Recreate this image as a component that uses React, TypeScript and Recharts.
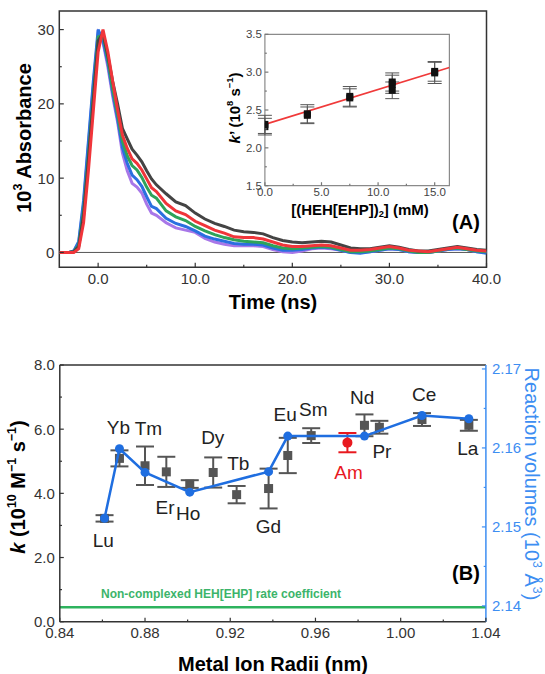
import React from "react"
import {
  ComposedChart,
  LineChart,
  Line,
  Scatter,
  XAxis,
  YAxis,
  ErrorBar,
  ReferenceArea,
  ReferenceLine,
} from "recharts"

const FONT = "'Liberation Sans', Arial, Helvetica, sans-serif"

// ---- (A) transient absorbance, 10^3 A vs time (ns) ----
const TIME_NS = [
  -4, -3, -2.5, -2, -1.5, -1, -0.5, 0, 0.5, 1, 1.5,
  2, 2.5, 3, 3.5, 4, 4.5, 5, 5.5, 6,
  7, 8, 9, 10, 11, 12, 13, 14, 15, 16, 17, 18, 19, 20, 21, 22, 23, 24,
  25, 26, 27, 28, 29, 30, 31, 32, 33, 34, 35, 36, 37, 38, 39, 40,
]
const ABS_BLACK = [
  0, 0, 0.1, 0.8, 5, 12.5, 20.5, 28.5, 29.5, 26.5, 23,
  20, 16.7, 15.3, 13.9, 13.1, 12.2, 11.0, 9.9, 9.1,
  7.9, 6.8, 6.3, 5.3, 4.5, 3.9, 3.5, 3.0, 2.8, 2.7, 2.5, 2.0, 1.6, 1.4, 1.3, 1.4, 1.5, 1.4,
  1.0, 0.6, 0.5, 0.5, 0.7, 0.9, 0.7, 0.4, 0.2, 0.2, 0.4, 0.6, 0.8, 0.6, 0.4, 0.3,
]
const ABS_RED = [
  0, 0, 0, 0.5, 4, 11, 19, 27, 30, 27, 23,
  19.2, 15.8, 14.0, 12.6, 12.0, 11.1, 9.9, 8.7, 8.2,
  6.6, 5.6, 5.1, 4.2, 3.6, 3.0, 2.6, 2.1, 2.0, 2.0, 1.8, 1.4, 1.0, 0.8, 0.8, 0.9, 1.0, 0.9,
  0.6, 0.3, 0.3, 0.4, 0.6, 0.8, 0.6, 0.3, 0.2, 0.1, 0.3, 0.5, 0.7, 0.5, 0.3, 0.2,
]
const ABS_GREEN = [
  0, 0, 0.1, 1.0, 5.5, 13, 21, 29, 29.3, 26, 22,
  18.6, 15.0, 13.0, 11.7, 11.1, 10.1, 8.8, 7.7, 7.3,
  5.6, 4.8, 4.3, 3.5, 2.9, 2.4, 2.0, 1.7, 1.5, 1.4, 1.3, 0.9, 0.6, 0.5, 0.6, 0.7, 0.8, 0.7,
  0.4, 0.1, 0.1, 0.2, 0.4, 0.6, 0.5, 0.2, 0.0, 0.0, 0.2, 0.5, 0.6, 0.4, 0.2, 0.1,
]
const ABS_BLUE = [
  0, 0, 0.2, 1.5, 7, 15, 23, 30, 28.5, 25.5, 21.5,
  18.0, 14.1, 12.0, 10.4, 9.8, 8.9, 7.5, 6.2, 5.9,
  4.6, 3.9, 3.5, 2.9, 2.2, 1.8, 1.5, 1.2, 1.1, 1.1, 1.0, 0.6, 0.3, 0.3, 0.4, 0.6, 0.7, 0.6,
  0.3, 0.0, -0.1, 0.1, 0.3, 0.5, 0.4, 0.1, 0.0, 0.0, 0.2, 0.4, 0.5, 0.4, 0.1, -0.1,
]
const ABS_PURPLE = [
  0, 0, 0.2, 1.3, 6.5, 14.5, 22.5, 29.5, 28.3, 25, 21,
  17.6, 13.4, 11.0, 9.3, 8.8, 8.0, 6.5, 5.3, 5.0,
  4.0, 3.3, 3.0, 2.7, 1.9, 1.4, 1.1, 0.9, 0.9, 0.9, 0.8, 0.4, 0.1, 0.0, 0.2, 0.5, 0.6, 0.5,
  0.3, 0.0, 0.0, 0.1, 0.3, 0.5, 0.4, 0.1, 0.0, 0.0, 0.2, 0.4, 0.5, 0.4, 0.1, 0.0,
]

// ---- (A) inset: k' vs [(HEH[EHP])2] ----
const CONC_MM = [0, 0, 3.75, 3.75, 7.5, 7.5, 11.25, 11.25, 11.25, 15, 15]
const K_PRIME = [2.28, 2.31, 2.43, 2.45, 2.66, 2.68, 2.76, 2.84, 2.87, 2.99, 3.01]
const K_PRIME_ERR = [0.11, 0.12, 0.11, 0.12, 0.12, 0.13, 0.11, 0.12, 0.12, 0.14, 0.13]
const FIT_CONC = [0, 16.3]
const FIT_K = [2.31, 3.06]

// ---- (B) rate coefficients and reaction volumes vs ionic radius ----
const ELEMENTS = ["Lu", "Yb", "Tm", "Er", "Ho", "Dy", "Tb", "Gd", "Eu", "Sm", "Nd", "Pr", "Ce", "La"]
const RADII_NM = [0.861, 0.868, 0.88, 0.89, 0.901, 0.912, 0.923, 0.938, 0.947, 0.958, 0.983, 0.99, 1.01, 1.032]
const K_RATE = [3.22, 5.09, 4.86, 4.67, 4.29, 4.65, 3.96, 4.15, 5.18, 5.8, 6.12, 6.06, 6.3, 6.12]
const K_ERR = [0.1, 0.25, 0.6, 0.47, 0.12, 0.47, 0.27, 0.62, 0.55, 0.23, 0.34, 0.2, 0.2, 0.17]
const AM_RADIUS = 0.975
const AM_K = 5.58
const AM_ERR = 0.3
const VOL_RADII = [0.861, 0.868, 0.88, 0.901, 0.938, 0.947, 0.983, 1.01, 1.032]
const VOLUMES = [2.1511, 2.1599, 2.1569, 2.1544, 2.157, 2.1615, 2.1615, 2.1641, 2.1637]
const NONCOMPLEX_K = 0.45

// annotation anchors for element names (data coordinates)
const LABEL_NAMES = ["Lu", "Yb", "Tm", "Er", "Ho", "Dy", "Tb", "Gd", "Eu", "Sm", "Am", "Nd", "Pr", "Ce", "La"]
const LABEL_X = [0.8604, 0.8675, 0.8816, 0.8894, 0.9003, 0.9118, 0.9238, 0.9379, 0.9458, 0.959, 0.9755, 0.9819, 0.9912, 1.011, 1.0315]
const LABEL_K = [2.55, 6.06, 6.02, 3.56, 3.38, 5.76, 4.95, 2.98, 6.47, 6.62, 4.67, 7.0, 5.3, 7.09, 5.41]

const decayRows = TIME_NS.map((t, i) => ({
  t,
  purple: ABS_PURPLE[i],
  blue: ABS_BLUE[i],
  green: ABS_GREEN[i],
  black: ABS_BLACK[i],
  red: ABS_RED[i],
}))
const insetRows = CONC_MM.map((c, i) => ({ c, k: K_PRIME[i], err: K_PRIME_ERR[i] }))
const fitRows = FIT_CONC.map((c, i) => ({ c, k: FIT_K[i] }))
const kRows = RADII_NM.map((x, i) => ({ x, k: K_RATE[i], err: K_ERR[i], name: ELEMENTS[i] }))
const amRows = [{ x: AM_RADIUS, k: AM_K, err: AM_ERR }]
const volRows = VOL_RADII.map((x, i) => ({ x, v: VOLUMES[i] }))
const labelRows = LABEL_NAMES.map((name, i) => ({ x: LABEL_X[i], k: LABEL_K[i], name }))

const BLUE = "#1f6ee0"
const AXIS_BLUE = "#3d8ef2"
const GREY = "#333"

type TickOpts = {
  side: "bottom" | "left" | "right"
  major: number[]
  digits: number
  size: number
  color: string
  tickColor: string
  len: number
  gap: number
}

const axisTick = (o: TickOpts) => (props: any) => {
  const { x, y, payload } = props
  const v = Number(payload.value)
  const isMajor = o.major.some((m) => Math.abs(m - v) < 1e-9)
  const len = isMajor ? o.len : o.len * 0.55
  const label = isMajor ? v.toFixed(o.digits) : ""
  const text = (tx: number, ty: number, anchor: string, dy: string) =>
    label ? (
      <text x={tx} y={ty} dy={dy} textAnchor={anchor} fontSize={o.size} fill={o.color} fontFamily={FONT}>
        {label}
      </text>
    ) : null
  if (o.side === "bottom") {
    return (
      <g>
        <line x1={x} x2={x} y1={y} y2={y - len} stroke={o.tickColor} strokeWidth={1.2} />
        {text(x, y + o.gap, "middle", "0.72em")}
      </g>
    )
  }
  if (o.side === "left") {
    return (
      <g>
        <line x1={x} x2={x + len} y1={y} y2={y} stroke={o.tickColor} strokeWidth={1.2} />
        {text(x - o.gap, y, "end", "0.36em")}
      </g>
    )
  }
  return (
    <g>
      <line x1={x} x2={x - len} y1={y} y2={y} stroke={o.tickColor} strokeWidth={1.2} />
      {text(x + o.gap, y, "start", "0.36em")}
    </g>
  )
}

const square = (color: string, s: number) => (p: any) =>
  <rect x={p.cx - s / 2} y={p.cy - s / 2} width={s} height={s} fill={color} />
const dot = (color: string, r: number) => (p: any) => <circle cx={p.cx} cy={p.cy} r={r} fill={color} />
const nothing = () => <g />
const nameLabel = (p: any) => (
  <text
    x={p.cx}
    y={p.cy}
    dy="0.36em"
    textAnchor="middle"
    fontSize={19}
    fontFamily={FONT}
    fill={p.payload.name === "Am" ? "#e8191f" : "#222"}
  >
    {p.payload.name}
  </text>
)

const abs = (left: number, top: number, extra: React.CSSProperties = {}): React.CSSProperties => ({
  position: "absolute",
  left,
  top,
  fontFamily: FONT,
  whiteSpace: "nowrap",
  transform: "translate(-50%, -50%)",
  ...extra,
})

const sup: React.CSSProperties = { fontSize: "0.62em", verticalAlign: "0.65em", lineHeight: 0 }
const sub: React.CSSProperties = { fontSize: "0.62em", verticalAlign: "-0.3em", lineHeight: 0 }

export default function App() {
  return (
    <div style={{ position: "absolute", left: 0, top: 0, width: 545, height: 674, background: "#fff", overflow: "hidden" }}>
      {/* panel A */}
      <div style={{ position: "absolute", left: 0, top: 0 }}>
        <LineChart width={545} height={320} data={decayRows} margin={{ top: 11, right: 58.5, bottom: 0, left: 0 }}>
          <XAxis
            dataKey="t"
            type="number"
            domain={[-4, 40]}
            allowDataOverflow
            ticks={[0, 5, 10, 15, 20, 25, 30, 35, 40]}
            interval={0}
            height={52.7}
            axisLine={false}
            tickLine={false}
            tickSize={0}
            tickMargin={0}
            tick={axisTick({ side: "bottom", major: [0, 10, 20, 30, 40], digits: 1, size: 15, color: GREY, tickColor: GREY, len: 4.5, gap: 6 })}
          />
          <YAxis
            type="number"
            domain={[-2, 32.5]}
            allowDataOverflow
            ticks={[0, 5, 10, 15, 20, 25, 30]}
            interval={0}
            width={59.3}
            axisLine={false}
            tickLine={false}
            tickSize={0}
            tickMargin={0}
            tick={axisTick({ side: "left", major: [0, 10, 20, 30], digits: 0, size: 15, color: GREY, tickColor: GREY, len: 4.5, gap: 5 })}
          />
          <ReferenceLine y={0} stroke="#555" strokeWidth={1} />
          <Line dataKey="purple" stroke="#a877e8" strokeWidth={3} dot={false} isAnimationActive={false} />
          <Line dataKey="blue" stroke="#2a6fe0" strokeWidth={3} dot={false} isAnimationActive={false} />
          <Line dataKey="green" stroke="#2ea35a" strokeWidth={3} dot={false} isAnimationActive={false} />
          <Line dataKey="black" stroke="#444" strokeWidth={3} dot={false} isAnimationActive={false} />
          <Line dataKey="red" stroke="#f0353a" strokeWidth={3} dot={false} isAnimationActive={false} />
          <ReferenceArea x1={-4} x2={40} y1={-2} y2={32.5} fill="none" stroke={GREY} strokeWidth={1.5} />
        </LineChart>
      </div>

      {/* inset */}
      <div style={{ position: "absolute", left: 200, top: 20 }}>
        <ComposedChart width={260} height={215} margin={{ top: 14.3, right: 10.6, bottom: 0, left: 0 }}>
          <XAxis
            dataKey="c"
            type="number"
            domain={[0, 16.3]}
            allowDataOverflow
            ticks={[0, 2.5, 5, 7.5, 10, 12.5, 15]}
            interval={0}
            height={49.3}
            axisLine={false}
            tickLine={false}
            tickSize={0}
            tickMargin={0}
            tick={axisTick({ side: "bottom", major: [0, 5, 10, 15], digits: 1, size: 11.5, color: "#444", tickColor: "#777", len: 3.5, gap: 2 })}
          />
          <YAxis
            dataKey="k"
            type="number"
            domain={[1.5, 3.5]}
            allowDataOverflow
            ticks={[1.5, 1.75, 2, 2.25, 2.5, 2.75, 3, 3.25, 3.5]}
            interval={0}
            width={64.9}
            axisLine={false}
            tickLine={false}
            tickSize={0}
            tickMargin={0}
            tick={axisTick({ side: "left", major: [1.5, 2, 2.5, 3, 3.5], digits: 1, size: 11.5, color: "#444", tickColor: "#777", len: 3.5, gap: 3 })}
          />
          <ReferenceArea x1={0} x2={16.3} y1={1.5} y2={3.5} fill="none" stroke="#8a8a8a" strokeWidth={1.2} />
          <Scatter data={fitRows} line={{ stroke: "#f03a3a", strokeWidth: 1.6 }} shape={nothing} isAnimationActive={false} />
          <Scatter data={insetRows} shape={square("#111", 7)} isAnimationActive={false}>
            <ErrorBar dataKey="err" direction="y" width={7} stroke="#555" strokeWidth={1} />
          </Scatter>
        </ComposedChart>
      </div>

      <div style={abs(24, 138, { fontSize: 20, fontWeight: 700, transform: "translate(-50%, -50%) rotate(-90deg)" })}>
        10<span style={sup}>3</span> Absorbance
      </div>
      <div style={abs(273, 302, { fontSize: 20, fontWeight: 700 })}>Time (ns)</div>
      <div style={abs(466, 222, { fontSize: 20, fontWeight: 700 })}>(A)</div>
      <div style={abs(234, 108, { fontSize: 15, fontWeight: 700, transform: "translate(-50%, -50%) rotate(-90deg)" })}>
        <i>k</i>’ (10<span style={sup}>8</span> s<span style={sup}>−1</span>)
      </div>
      <div style={abs(360, 209, { fontSize: 15, fontWeight: 700 })}>
        [(HEH[EHP])<span style={sub}>2</span>] (mM)
      </div>

      {/* panel B */}
      <div style={{ position: "absolute", left: 0, top: 330 }}>
        <ComposedChart width={545} height={344} margin={{ top: 35, right: 0, bottom: 0, left: 0 }}>
          <XAxis
            dataKey="x"
            type="number"
            domain={[0.84, 1.04]}
            allowDataOverflow
            ticks={[0.84, 0.86, 0.88, 0.9, 0.92, 0.94, 0.96, 0.98, 1.0, 1.02, 1.04]}
            interval={0}
            height={52.3}
            axisLine={{ stroke: GREY, strokeWidth: 1.5 }}
            tickLine={false}
            tickSize={0}
            tickMargin={0}
            tick={axisTick({ side: "bottom", major: [0.84, 0.88, 0.92, 0.96, 1.0, 1.04], digits: 2, size: 15, color: GREY, tickColor: GREY, len: 4, gap: 5 })}
          />
          <YAxis
            yAxisId="left"
            dataKey="k"
            type="number"
            domain={[0, 8]}
            allowDataOverflow
            ticks={[0, 1, 2, 3, 4, 5, 6, 7, 8]}
            interval={0}
            width={59.8}
            axisLine={{ stroke: GREY, strokeWidth: 1.5 }}
            tickLine={false}
            tickSize={0}
            tickMargin={0}
            tick={axisTick({ side: "left", major: [0, 2, 4, 6, 8], digits: 1, size: 15, color: GREY, tickColor: GREY, len: 4, gap: 5 })}
          />
          <YAxis
            yAxisId="right"
            orientation="right"
            dataKey="v"
            type="number"
            domain={[2.138, 2.1705]}
            allowDataOverflow
            ticks={[2.14, 2.145, 2.15, 2.155, 2.16, 2.165, 2.17]}
            interval={0}
            width={59.1}
            axisLine={{ stroke: AXIS_BLUE, strokeWidth: 1.5 }}
            tickLine={false}
            tickSize={0}
            tickMargin={0}
            tick={axisTick({ side: "right", major: [2.14, 2.15, 2.16, 2.17], digits: 2, size: 15, color: AXIS_BLUE, tickColor: AXIS_BLUE, len: 4, gap: 6 })}
          />
          <ReferenceLine yAxisId="left" y={8} stroke={GREY} strokeWidth={1.5} />
          <ReferenceLine yAxisId="left" y={NONCOMPLEX_K} stroke="#2eb35e" strokeWidth={2.5} />
          <Scatter yAxisId="left" data={kRows} shape={square("#555", 9)} isAnimationActive={false}>
            <ErrorBar dataKey="err" direction="y" width={9} stroke="#555" strokeWidth={2} />
          </Scatter>
          <Scatter yAxisId="left" data={amRows} shape={dot("#e8191f", 5)} isAnimationActive={false}>
            <ErrorBar dataKey="err" direction="y" width={9} stroke="#e8191f" strokeWidth={2} />
          </Scatter>
          <Scatter
            yAxisId="right"
            data={volRows}
            line={{ stroke: BLUE, strokeWidth: 2.5 }}
            lineType="joint"
            shape={dot(BLUE, 4.5)}
            isAnimationActive={false}
          />
          <Scatter yAxisId="left" data={labelRows} shape={nameLabel} isAnimationActive={false} />
        </ComposedChart>
      </div>

      <div style={abs(18, 487, { fontSize: 20, fontWeight: 700, transform: "translate(-50%, -50%) rotate(-90deg)" })}>
        <i>k</i> (10<span style={sup}>10</span> M<span style={sup}>−1</span> s<span style={sup}>−1</span>)
      </div>
      <div style={abs(273, 664, { fontSize: 20, fontWeight: 700 })}>Metal Ion Radii (nm)</div>
      <div style={abs(531, 484, { fontSize: 20, color: AXIS_BLUE, transform: "translate(-50%, -50%) rotate(90deg)" })}>
        Reaction volumes (10<span style={sup}>3</span> Å<span style={sup}>3</span>)
      </div>
      <div style={abs(466, 573, { fontSize: 20, fontWeight: 700 })}>(B)</div>
      <div style={{ ...abs(101, 594, { fontSize: 12, fontWeight: 700, color: "#3cb46a" }), transform: "translate(0, -50%)" }}>
        Non-complexed HEH[EHP] rate coefficient
      </div>
    </div>
  )
}
